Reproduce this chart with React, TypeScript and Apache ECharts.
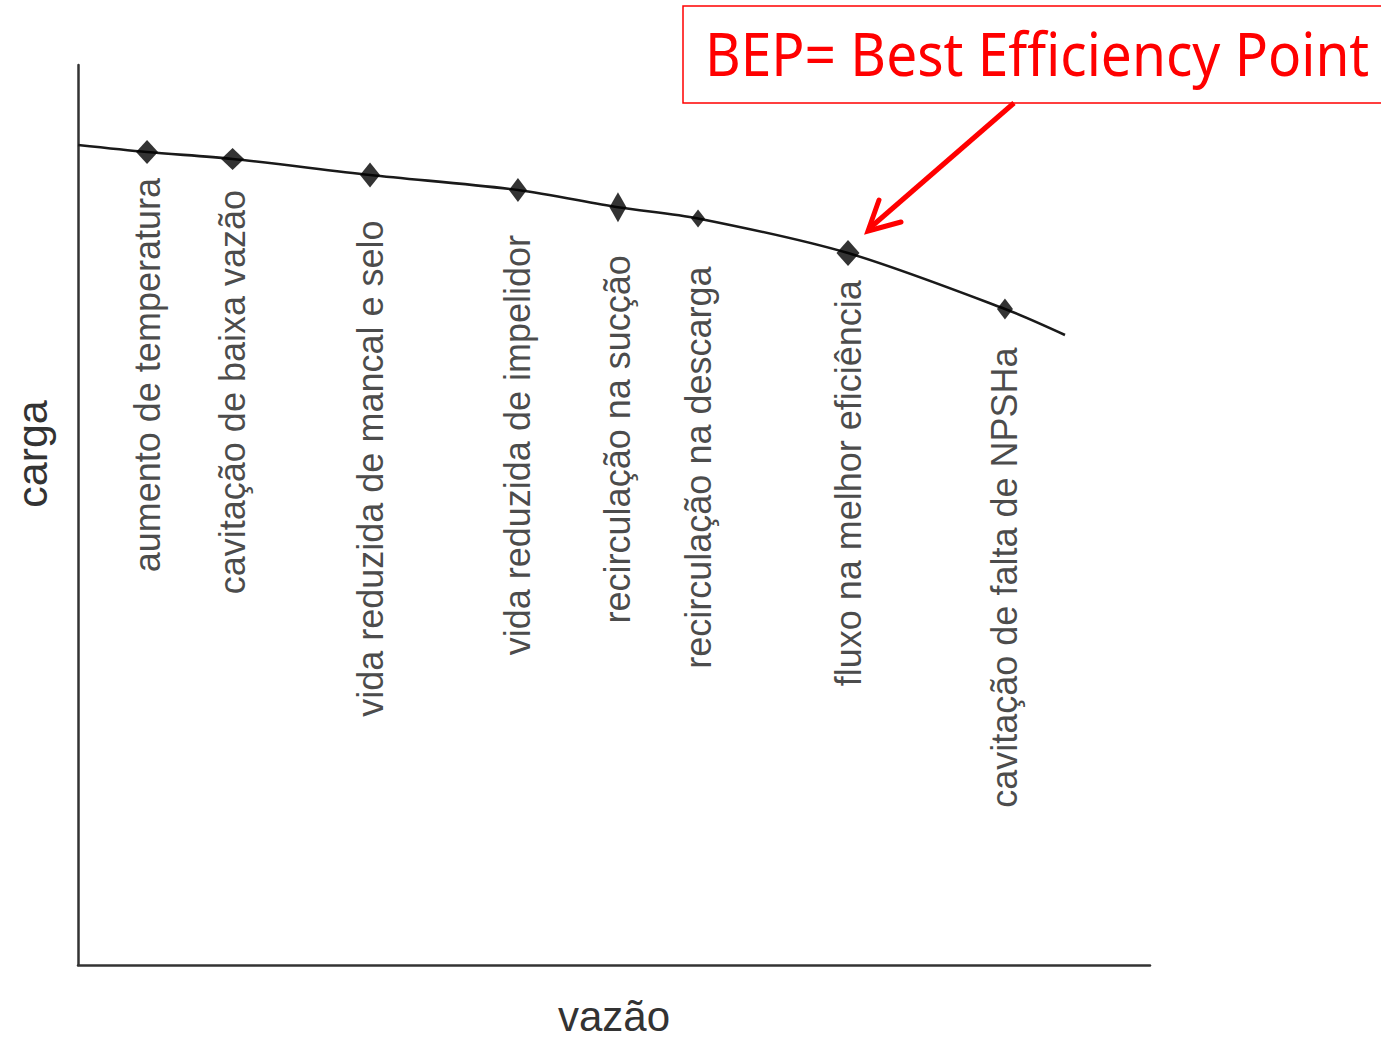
import React, { useEffect, useRef } from "react";
import * as echarts from "echarts";

// Head curve (carga vs vazão); x: 0–100, y: 0–100
const curveX = [0, 6.44, 14.42, 27.24, 41.04, 50.37, 57.84, 71.83, 86.47, 92.07];
const curveY = [91.11, 90.33, 89.56, 87.78, 86.11, 84.2, 82.95, 79.1, 72.89, 70.0];

// Marked operating points on the curve
const pointLabels = [
  "aumento de temperatura",
  "cavitação de baixa vazão",
  "vida reduzida de mancal e selo",
  "vida reduzida de impelidor",
  "recirculação na sucção",
  "recirculação na descarga",
  "fluxo na melhor eficiência",
  "cavitação de falta de NPSHa",
];
const pointX = [6.44, 14.42, 27.24, 41.04, 50.37, 57.84, 71.83, 86.47];
const pointY = [90.33, 89.56, 87.78, 86.11, 84.2, 82.95, 79.1, 72.89];

// marker sizes and label gaps (styling)
const markerSizes = [[22, 24], [23, 22], [20, 25], [18, 24], [17, 30], [14, 18], [23, 26], [16, 21]];
const labelGaps = [9, 15, 28, 28, 28, 34, 9, 23];

const xName = "vazão";
const yName = "carga";
const bepText = "BEP= Best Efficiency Point";

export default function App() {
  const ref = useRef<HTMLDivElement>(null);
  useEffect(() => {
    if (!ref.current) return;
    const chart = echarts.init(ref.current, null, { renderer: "svg" });
    const font = "'Liberation Sans', Arial, sans-serif";
    chart.setOption({
      animation: false,
      backgroundColor: "#ffffff",
      grid: {
        left: 78,
        top: 65,
        width: 1072,
        height: 900,
        containLabel: false,
        outerBoundsMode: "none",
      },
      xAxis: {
        type: "value",
        min: 0,
        max: 100,
        name: xName,
        nameLocation: "middle",
        nameGap: 34,
        nameTextStyle: { fontSize: 42, lineHeight: 34, fontFamily: font, color: "#333" },
        axisLine: { show: true, lineStyle: { color: "#333", width: 2.5 } },
        axisTick: { show: false },
        axisLabel: { show: false },
        splitLine: { show: false },
      },
      yAxis: {
        type: "value",
        min: 0,
        max: 100,
        axisLine: { show: true, lineStyle: { color: "#333", width: 2.5 } },
        axisTick: { show: false },
        axisLabel: { show: false },
        splitLine: { show: false },
      },
      series: [
        {
          type: "line",
          data: curveX.map((x, i) => [x, curveY[i]]),
          smooth: 0.3,
          symbol: "none",
          lineStyle: { color: "#1a1a1a", width: 2.6 },
          z: 2,
        },
        {
          type: "scatter",
          data: pointX.map((x, i) => ({
            value: [x, pointY[i]],
            name: pointLabels[i],
            symbolSize: markerSizes[i],
            label: { distance: labelGaps[i] },
          })),
          symbol: "diamond",
          itemStyle: { color: "#000" },
          label: {
            show: true,
            formatter: (p: any) => p.name,
            position: "bottom",
            rotate: 90,
            align: "right",
            verticalAlign: "middle",
            offset: [-5, 0],
            fontSize: 36,
            fontFamily: font,
            color: "#1a1a1a",
          },
          z: 3,
        },
      ],
      graphic: [
        {
          type: "text",
          x: 32,
          y: 454,
          rotation: Math.PI / 2,
          style: {
            text: yName,
            fontSize: 43,
            fontFamily: font,
            fill: "#333",
            align: "center",
            verticalAlign: "middle",
          },
        },
        {
          type: "rect",
          shape: { x: 683, y: 6, width: 720, height: 97 },
          style: { fill: "#fff", stroke: "#ff0000", lineWidth: 1.5 },
        },
        {
          type: "text",
          x: 705,
          y: 52.5,
          scaleX: 0.917,
          style: {
            text: bepText,
            fontSize: 60,
            fontFamily: "'Noto Sans', sans-serif",
            fill: "#ff0000",
            align: "left",
            verticalAlign: "middle",
          },
        },
        {
          type: "line",
          shape: { x1: 1014, y1: 103, x2: 871, y2: 227 },
          style: { stroke: "#ff0000", lineWidth: 5 },
        },
        {
          type: "polyline",
          shape: { points: [[879, 200], [868, 231], [901, 222]] },
          style: { stroke: "#ff0000", lineWidth: 5, fill: null, lineJoin: "miter", lineCap: "round" },
        },
      ],
    });
    return () => chart.dispose();
  }, []);
  return (
    <div
      ref={ref}
      style={{ position: "absolute", left: 0, top: 0, width: 1381, height: 1040 }}
    />
  );
}
